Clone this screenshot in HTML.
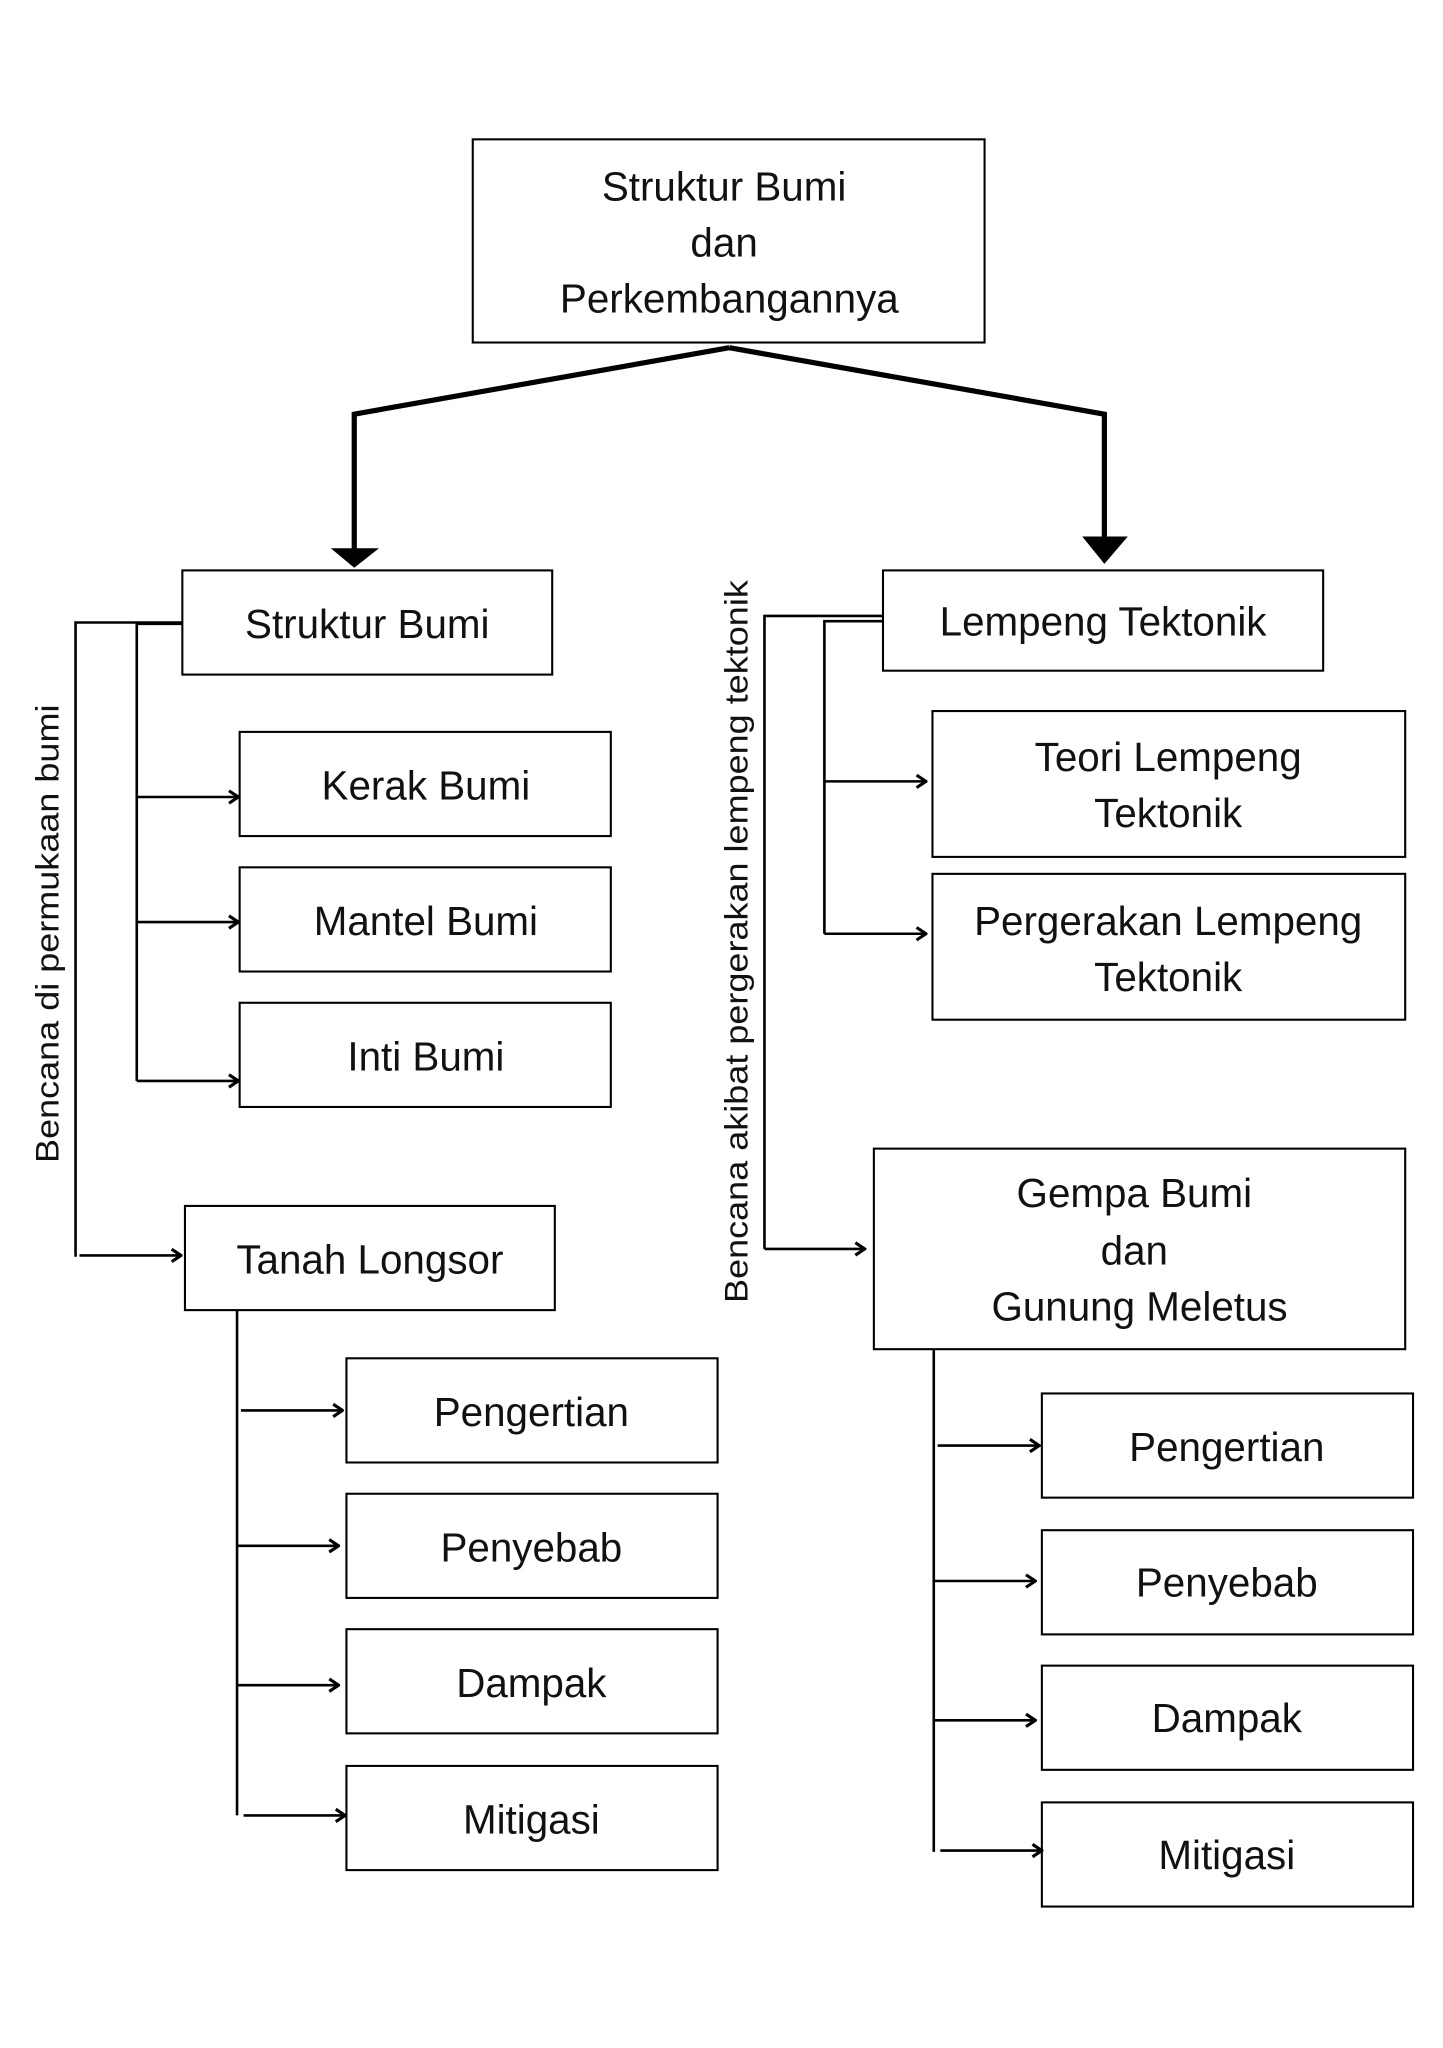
<!DOCTYPE html>
<html><head><meta charset="utf-8"><style>
html,body{margin:0;padding:0;background:#fff;}
svg{display:block;}
text{font-family:"Liberation Sans",sans-serif;fill:#111;}
</style></head><body>
<svg width="1443" height="2048" viewBox="0 0 1108 1572.6" xmlns="http://www.w3.org/2000/svg">
<rect width="1108" height="1573" fill="#fff"/>
<defs>
<marker id="a" viewBox="0 0 10 10" refX="9" refY="5" markerWidth="12" markerHeight="12" orient="auto" markerUnits="userSpaceOnUse"><path d="M3,1 L9,5 L3,9" fill="none" stroke="#000" stroke-width="2"/></marker>
</defs>
<g transform="translate(1,2)">
<g fill="none" stroke="#000" stroke-width="1.6">
<rect x="362" y="105" width="393" height="156"/>
<rect x="139" y="436" width="284" height="80"/>
<rect x="677" y="436" width="338" height="77"/>
<rect x="183" y="560" width="285" height="80"/>
<rect x="183" y="664" width="285" height="80"/>
<rect x="183" y="768" width="285" height="80"/>
<rect x="715" y="544" width="363" height="112"/>
<rect x="715" y="669" width="363" height="112"/>
<rect x="141" y="924" width="284" height="80"/>
<rect x="670" y="880" width="408" height="154"/>
<rect x="265" y="1041" width="285" height="80"/>
<rect x="265" y="1145" width="285" height="80"/>
<rect x="265" y="1249" width="285" height="80"/>
<rect x="265" y="1354" width="285" height="80"/>
<rect x="799" y="1068" width="285" height="80"/>
<rect x="799" y="1173" width="285" height="80"/>
<rect x="799" y="1277" width="285" height="80"/>
<rect x="799" y="1382" width="285" height="80"/>
</g>
<g fill="none" stroke="#000" stroke-width="4">
<polyline points="559,265 271,316 271,420"/>
<polyline points="559,265 847,316 847,412"/>
</g>
<polygon points="253,419 290,419 271,434" fill="#000"/>
<polygon points="830,410 865,410 847,431" fill="#000"/>
<g fill="none" stroke="#000" stroke-width="2">
<polyline points="139,476 57,476 57,963"/>
<polyline points="139,477 104,477 104,828"/>
<line x1="104" y1="610" x2="182" y2="610" marker-end="url(#a)"/>
<line x1="104" y1="706" x2="182" y2="706" marker-end="url(#a)"/>
<line x1="104" y1="828" x2="182" y2="828" marker-end="url(#a)"/>
<line x1="60" y1="962" x2="138" y2="962" marker-end="url(#a)"/>
<line x1="181" y1="1004" x2="181" y2="1392"/>
<line x1="184" y1="1081" x2="262" y2="1081" marker-end="url(#a)"/>
<line x1="181" y1="1185" x2="259" y2="1185" marker-end="url(#a)"/>
<line x1="181" y1="1292" x2="259" y2="1292" marker-end="url(#a)"/>
<line x1="186" y1="1392" x2="264" y2="1392" marker-end="url(#a)"/>
<polyline points="677,471 586,471 586,957"/>
<line x1="586" y1="957" x2="663" y2="957" marker-end="url(#a)"/>
<polyline points="677,475 632,475 632,715"/>
<line x1="632" y1="598" x2="710" y2="598" marker-end="url(#a)"/>
<line x1="632" y1="715" x2="710" y2="715" marker-end="url(#a)"/>
<line x1="716" y1="1034" x2="716" y2="1420"/>
<line x1="719" y1="1108" x2="797" y2="1108" marker-end="url(#a)"/>
<line x1="716" y1="1212" x2="794" y2="1212" marker-end="url(#a)"/>
<line x1="716" y1="1319" x2="794" y2="1319" marker-end="url(#a)"/>
<line x1="721" y1="1419" x2="799" y2="1419" marker-end="url(#a)"/>
</g>
<g font-size="31" text-anchor="middle">
<text x="555" y="152">Struktur Bumi</text>
<text x="555" y="195">dan</text>
<text x="559" y="238">Perkembangannya</text>
<text x="281" y="488">Struktur Bumi</text>
<text x="846" y="486">Lempeng Tektonik</text>
<text x="326" y="612">Kerak Bumi</text>
<text x="326" y="716">Mantel Bumi</text>
<text x="326" y="820">Inti Bumi</text>
<text x="896" y="590">Teori Lempeng</text>
<text x="896" y="633">Tektonik</text>
<text x="896" y="716">Pergerakan Lempeng</text>
<text x="896" y="759">Tektonik</text>
<text x="283" y="976">Tanah Longsor</text>
<text x="870" y="925">Gempa Bumi</text>
<text x="870" y="969">dan</text>
<text x="874" y="1012">Gunung Meletus</text>
<text x="407" y="1093">Pengertian</text>
<text x="407" y="1197">Penyebab</text>
<text x="407" y="1301">Dampak</text>
<text x="407" y="1406">Mitigasi</text>
<text x="941" y="1120">Pengertian</text>
<text x="941" y="1224">Penyebab</text>
<text x="941" y="1328">Dampak</text>
<text x="941" y="1433">Mitigasi</text>
</g>
<text font-size="25" text-anchor="middle" textLength="352" lengthAdjust="spacingAndGlyphs" transform="translate(44,715) rotate(-90)">Bencana di permukaan bumi</text>
<text font-size="25" text-anchor="middle" textLength="555" lengthAdjust="spacingAndGlyphs" transform="translate(573,721) rotate(-90)">Bencana akibat pergerakan lempeng tektonik</text>
</g>
</svg>
</body></html>
